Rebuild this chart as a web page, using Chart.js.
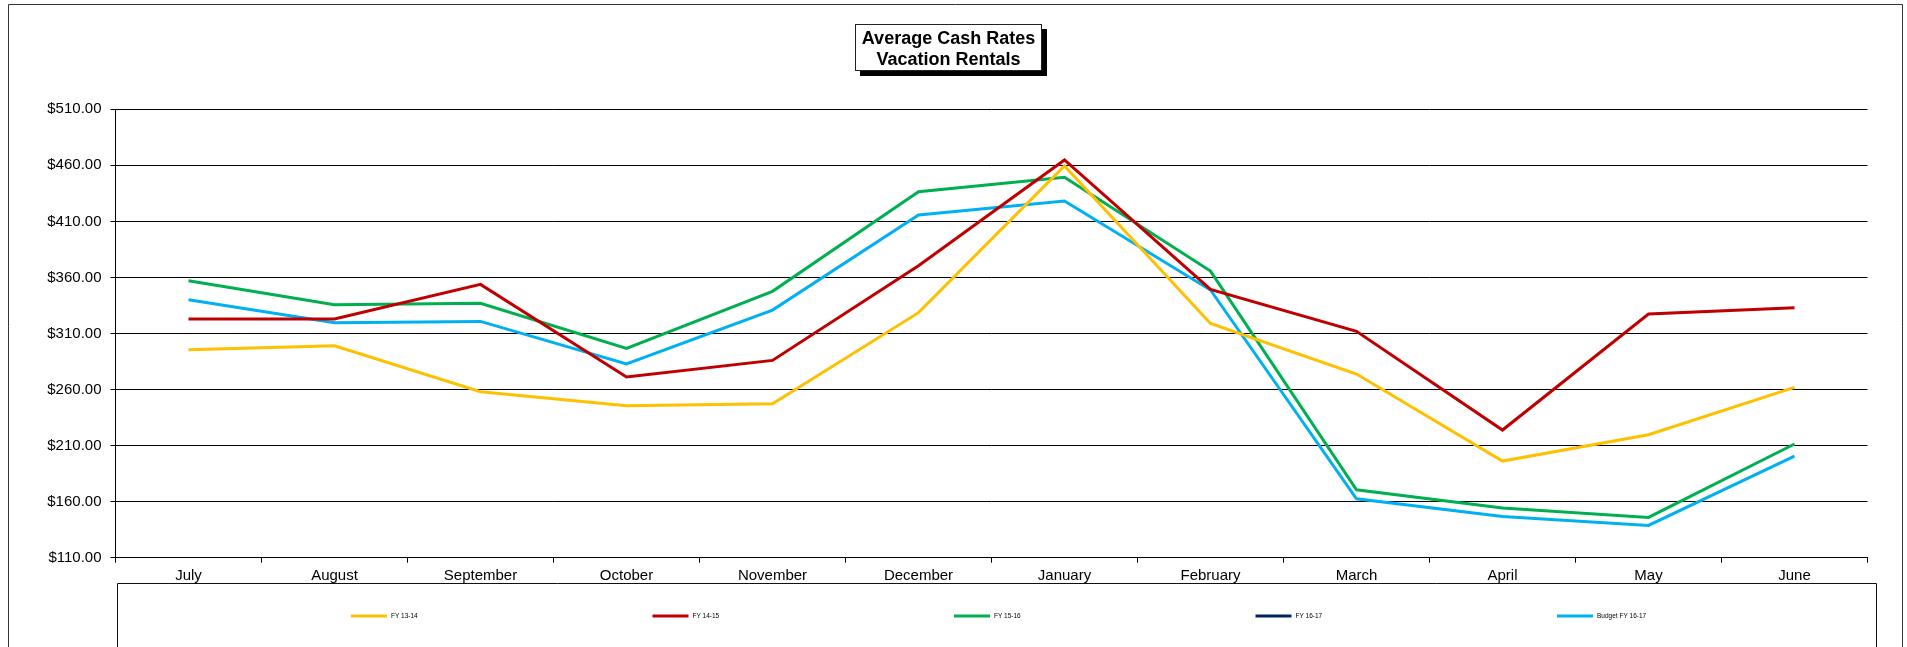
<!DOCTYPE html>
<html>
<head>
<meta charset="utf-8">
<title>Average Cash Rates - Vacation Rentals</title>
<script src="https://cdn.jsdelivr.net/npm/chart.js@4.4.1/dist/chart.umd.min.js"></script>
<style>
  html, body { margin: 0; padding: 0; background: #fff; }
  canvas { display: block; }
</style>
</head>
<body>
<canvas id="graficoCash" width="1907" height="647"></canvas>
<script>
// Dados
var months = ['July', 'August', 'September', 'October', 'November', 'December',
              'January', 'February', 'March', 'April', 'May', 'June'];
var fy1314 = [295.5, 299.1, 258.1, 245.6, 247.4, 328.6, 459.5, 319.0, 273.8, 196.2, 219.7, 261.9];
var fy1415 = [322.9, 322.9, 353.8, 271.2, 286.0, 370.5, 464.8, 349.4, 311.9, 223.9, 327.4, 333.0];
var fy1516 = [357.1, 335.7, 336.9, 296.7, 347.6, 436.5, 449.3, 365.7, 170.6, 154.3, 145.9, 211.4];
var fy1617 = [];
var budget1617 = [340.2, 319.6, 320.8, 282.8, 330.9, 415.7, 428.2, 348.8, 162.6, 146.8, 138.8, 200.7];
var yMin = 110, yMax = 510, yStep = 50;

var seriesLabels = ['FY 13-14', 'FY 14-15', 'FY 15-16', 'FY 16-17', 'Budget FY 16-17'];
var seriesColors = ['#FFC000', '#C00000', '#00B050', '#002060', '#00B0F0'];
var seriesData = [fy1314, fy1415, fy1516, fy1617, budget1617];

var FONT = '"Liberation Sans", Arial, sans-serif';

// Moldura, título e legenda no estilo Excel
var excelFrame = {
  id: 'excelFrame',
  afterDraw: function (chart) {
    var ctx = chart.ctx;
    ctx.save();

    // borda externa
    ctx.strokeStyle = '#333';
    ctx.lineWidth = 1;
    ctx.beginPath();
    ctx.moveTo(8.5, 660);
    ctx.lineTo(8.5, 4.5);
    ctx.lineTo(1902.5, 4.5);
    ctx.lineTo(1902.5, 660);
    ctx.stroke();

    // caixa do título com sombra
    ctx.fillStyle = '#000';
    ctx.fillRect(860, 29, 187, 47);
    ctx.fillStyle = '#fff';
    ctx.fillRect(855.5, 24.5, 186, 46);
    ctx.strokeStyle = '#222';
    ctx.strokeRect(855.5, 24.5, 186, 46);
    ctx.fillStyle = '#000';
    ctx.font = 'bold 18px ' + FONT;
    ctx.textAlign = 'center';
    ctx.textBaseline = 'middle';
    ctx.fillText('Average Cash Rates', 948.5, 39.5);
    ctx.fillText('Vacation Rentals', 948.5, 60);

    // caixa da legenda
    ctx.strokeStyle = '#111';
    ctx.beginPath();
    ctx.moveTo(117.5, 660);
    ctx.lineTo(117.5, 583.5);
    ctx.lineTo(1876.5, 583.5);
    ctx.lineTo(1876.5, 660);
    ctx.stroke();

    // itens da legenda
    ctx.font = '6.5px ' + FONT;
    ctx.textAlign = 'left';
    chart.data.datasets.forEach(function (ds, i) {
      var x = 351 + i * 301.5;
      var y = 616;
      ctx.strokeStyle = ds.borderColor;
      ctx.lineWidth = 3;
      ctx.beginPath();
      ctx.moveTo(x, y);
      ctx.lineTo(x + 36, y);
      ctx.stroke();
      ctx.fillStyle = '#000';
      ctx.fillText(ds.label, x + 40, y);
    });

    ctx.restore();
  }
};

function createChart() {
  var ctx = document.getElementById('graficoCash').getContext('2d');

  new Chart(ctx, {
    type: 'line',
    data: {
      labels: months,
      datasets: seriesData.map(function (data, index) {
        return {
          label: seriesLabels[index],
          data: data,
          borderColor: seriesColors[index],
          backgroundColor: seriesColors[index],
          borderWidth: 3,
          pointRadius: 0,
          pointHoverRadius: 0,
          fill: false,
          tension: 0
        };
      })
    },
    plugins: [excelFrame],
    options: {
      responsive: false,
      devicePixelRatio: 1,
      animation: false,
      events: [],
      layout: { padding: { left: 0, top: 109.3, right: 39.5, bottom: 59.3 } },
      plugins: {
        legend: { display: false },
        title: { display: false },
        tooltip: { enabled: false }
      },
      scales: {
        x: {
          offset: true,
          grid: { display: true, offset: true, drawOnChartArea: false, drawTicks: true, tickLength: 5, color: '#000' },
          border: { display: true, color: '#000', width: 1 },
          ticks: { color: '#000', font: { family: FONT, size: 15 }, padding: 4, maxRotation: 0, autoSkip: false },
          afterFit: function (scale) { scale.height = 30; }
        },
        y: {
          min: yMin,
          max: yMax,
          grid: { color: '#000', lineWidth: 1, drawTicks: true, tickLength: 5 },
          border: { display: true, color: '#000', width: 1 },
          ticks: {
            stepSize: yStep,
            color: '#000',
            padding: 9,
            font: { family: FONT, size: 15 },
            callback: function (value) { return '$' + value.toFixed(2); }
          },
          afterFit: function (scale) { scale.width = 115.5; }
        }
      }
    }
  });
}

createChart();
</script>
</body>
</html>
